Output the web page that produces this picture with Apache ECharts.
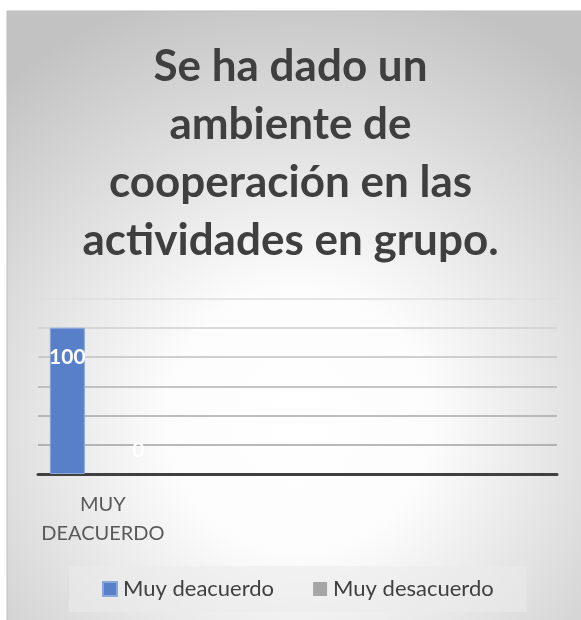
<!DOCTYPE html>
<html>
<head>
<meta charset="utf-8">
<script src="https://cdn.jsdelivr.net/npm/echarts@6/dist/echarts.min.js"></script>
<style>
html,body{margin:0;padding:0;background:#fff;overflow:hidden;}
#chart{width:581px;height:620px;}
</style>
</head>
<body>
<div id="chart"></div>
<script>
const titleText = 'Se ha dado un\nambiente de\ncooperación en las\nactividades en grupo.';
const categories = ['MUY\nDEACUERDO', '', '', ''];
const seriesNames = ['Muy deacuerdo', 'Muy desacuerdo'];
const muyDeacuerdo = [100];
const muyDesacuerdo = [0];
const yMin = 0, yMax = 120, yInterval = 20;

const chart = echarts.init(document.getElementById('chart'));
chart.setOption({
  animation: false,
  graphic: [{
    type: 'rect', z: -10, silent: true,
    shape: { x: 7, y: 11, width: 620, height: 640 },
    style: {
      fill: { type: 'radial', x: 0.47, y: 0.64, r: 0.72,
        colorStops: [{ offset: 0, color: '#ffffff' }, { offset: 0.3, color: '#fcfcfc' }, { offset: 1, color: '#c2c2c2' }] },
      stroke: '#bdbdbd', lineWidth: 1
    }
  }],
  title: {
    text: titleText, left: 'center', top: 38, padding: 0,
    textStyle: { fontFamily: 'Lato', fontWeight: 'bold', fontSize: 44, lineHeight: 58, color: '#3f3f3f' }
  },
  legend: {
    data: seriesNames, left: 69, top: 566, padding: [12, 33], itemGap: 39,
    itemWidth: 14, itemHeight: 14, icon: 'rect',
    backgroundColor: 'rgba(235,235,235,0.55)',
    textStyle: { fontFamily: 'Lato', fontSize: 22, color: '#404040', padding: [0, 0, 0, 1] }
  },
  grid: { left: 38, right: 24, top: 298.5, bottom: 146, containLabel: false },
  xAxis: {
    type: 'category', data: categories,
    axisLine: { lineStyle: { color: '#404040', width: 3 } },
    axisTick: { show: false },
    axisLabel: { interval: 0, fontFamily: 'Lato', fontSize: 20, lineHeight: 29, color: '#595959', margin: 16 }
  },
  yAxis: {
    type: 'value', min: yMin, max: yMax, interval: yInterval,
    axisLabel: { show: false }, axisLine: { show: false }, axisTick: { show: false },
    splitLine: { lineStyle: { width: 1.5, color: ['#999999', '#a2a2a2', '#a8a8a8', '#b2b2b2', '#c0c0c0', '#d0d0d0', '#dedede'] } }
  },
  series: [
    { name: seriesNames[0], type: 'bar', data: muyDeacuerdo, barWidth: 35, barGap: '103%',
      itemStyle: { color: '#5880c9', borderColor: '#8aa6da', borderWidth: 1 },
      label: { show: true, position: 'insideTop', distance: 19, color: '#ffffff', fontFamily: 'Lato', fontWeight: 'bold', fontSize: 21 } },
    { name: seriesNames[1], type: 'bar', data: muyDesacuerdo, barWidth: 35,
      itemStyle: { color: '#a5a5a5' },
      label: { show: true, position: 'top', distance: 13, color: '#ffffff', fontFamily: 'Lato', fontWeight: 'bold', fontSize: 21 } }
  ]
});
</script>
</body>
</html>
